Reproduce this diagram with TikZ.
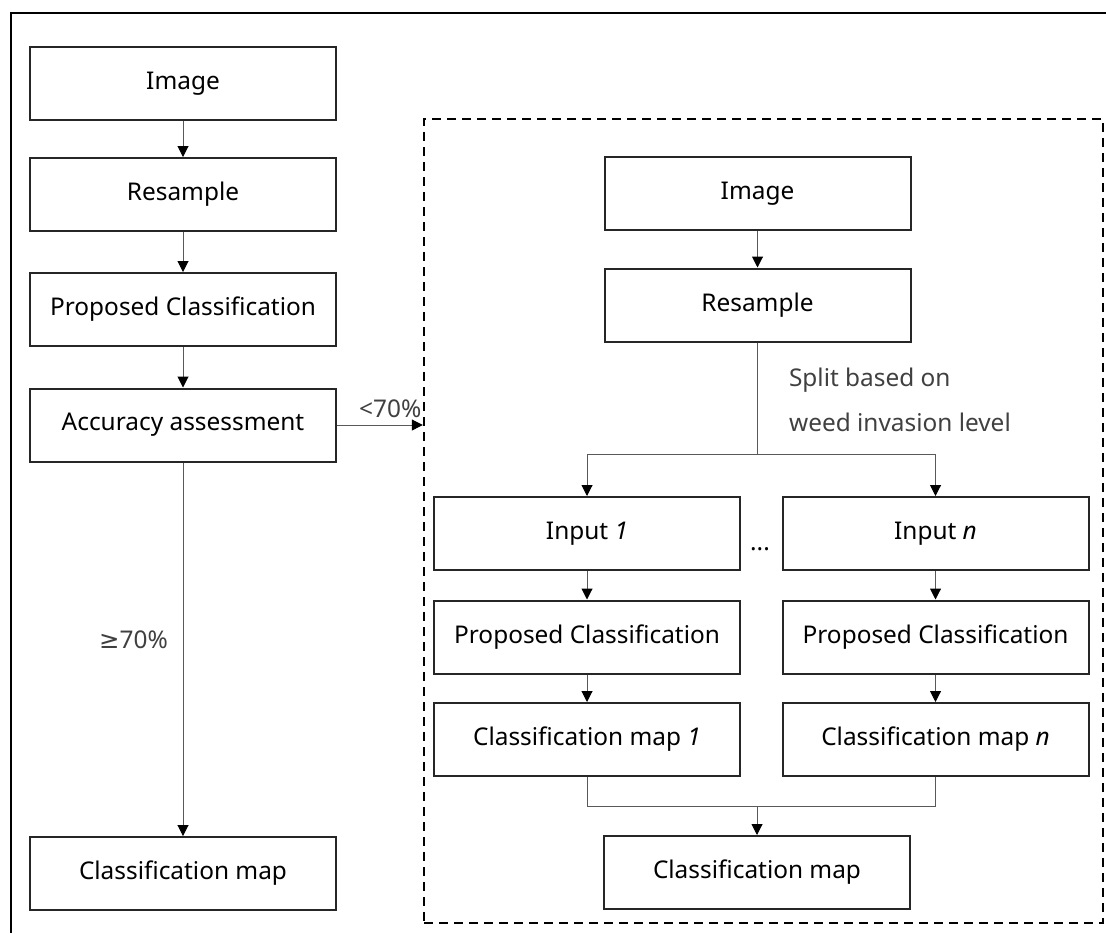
\documentclass[tikz,border=0pt]{standalone}
\usepackage{fontspec}
\setmainfont{Noto Sans}
\newfontfamily\symfont{DejaVu Sans}
\usetikzlibrary{arrows.meta,positioning}

\tikzset{
  box/.style={draw=black!85, line width=1pt, minimum width=153pt, minimum height=36.5pt,
    inner sep=0pt, font=\fontsize{12.2}{14}\selectfont},
  link/.style={draw=black!65, line width=0.5pt},
  arr/.style={link, -{Triangle[width=5.5pt,length=5.5pt,color=black]}},
  lbl/.style={text=black!75, font=\fontsize{12.2}{14}\selectfont},
  dashbox/.style={draw=black, line width=1.2pt, dash pattern=on 4.5pt off 3pt,
    minimum width=339.5pt, minimum height=402pt, inner sep=0pt}
}

\begin{document}
\begin{tikzpicture}[x=0.5pt,y=-0.5pt]
    \useasboundingbox (0,0) rectangle (1106,933);
    % outer frame
    \draw[line width=1.2pt] (11,933) -- (11,13) -- (1106,13);

    % left column
    \node[box] (img)  at (183,83.5)  {Image};
    \node[box] (res)  at (183,194.5) {Resample};
    \node[box] (prop) at (183,309.5) {Proposed Classification};
    \node[box] (acc)  at (183,425)   {Accuracy assessment};
    \node[box] (map)  at (183,873.5) {Classification map};

    \draw[arr] (img) -- (res);
    \draw[arr] (res) -- (prop);
    \draw[arr] (prop) -- (acc);
    \draw[arr] (acc) -- node[lbl, pos=0.475, left=4pt] {{\symfont ≥}70\%} (map);

    % split by weed invasion level
    \node[dashbox] (frame) at (763.5,521) {};
    \draw[arr] (acc.east) -- node[lbl, pos=0.62, above=0pt] {<70\%} (acc.east -| frame.west);

    \node[box] (rimg) at (757.5,193.5) {Image};
    \node[box] (rres) at (757.5,305)   {Resample};
    \draw[arr] (rimg) -- (rres);

    \node[box] (in1)  at (587,533.5)   {Input \textit{1}};
    \node[box] (inn)  at (935.5,533.5) {Input \textit{n}};
    \node[box] (prop1) at (587,637)    {Proposed Classification};
    \node[box] (propn) at (935.5,637)  {Proposed Classification};
    \node[box] (map1) at (587,739.5)   {Classification map \textit{1}};
    \node[box] (mapn) at (935.5,739.5) {Classification map \textit{n}};
    \node[box] (final) at (757,872.5)  {Classification map};
    \node[font=\fontsize{12.2}{14}\selectfont] (dots) at (760,549) {...};

    \coordinate (split) at (757.5,454);
    \coordinate (merge) at (757,806);

    \draw[link] (rres) -- (split);
    \node[lbl, align=left, anchor=west, font=\fontsize{12.2}{22.5}\selectfont]
        (splitlbl) at (782,400) {Split based on\\weed invasion level};
    \draw[arr] (split) -| (in1);
    \draw[arr] (split) -| (inn);

    \draw[arr] (in1) -- (prop1);
    \draw[arr] (inn) -- (propn);
    \draw[arr] (prop1) -- (map1);
    \draw[arr] (propn) -- (mapn);

    \draw[link] (map1) |- (merge) -| (mapn);
    \draw[arr] (merge) -- (final);
\end{tikzpicture}
\end{document}
